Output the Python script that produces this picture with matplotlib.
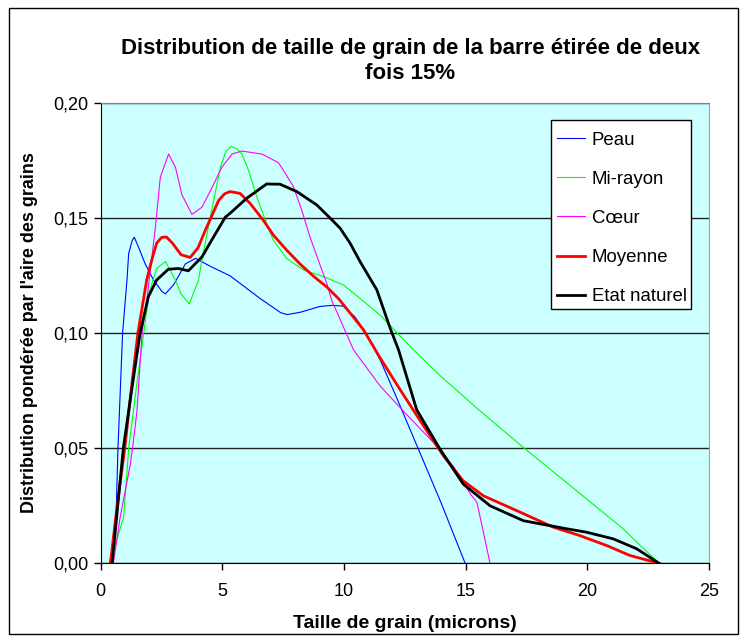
import numpy as np
import matplotlib
matplotlib.use('Agg')
import matplotlib.pyplot as plt
from matplotlib.patches import Rectangle
from matplotlib.ticker import FuncFormatter

plt.rcParams['font.family'] = ['Liberation Sans', 'DejaVu Sans']

# grain size distributions (microns vs area-weighted fraction)
peau_x = [0.45, 0.63, 0.71, 0.9, 1.08, 1.15, 1.29, 1.38, 1.55, 1.83, 2.17, 2.52, 2.66, 3.0, 3.48, 3.9,
          4.5, 5.32, 6.55, 7.4, 7.67, 8.2, 9.0, 9.5, 9.96, 10.45, 10.9, 11.5, 12.2, 13.0, 14.0, 14.98]
peau_y = [0.0, 0.02, 0.05, 0.10, 0.123, 0.1345, 0.140, 0.1416, 0.1374, 0.130, 0.123, 0.118, 0.117, 0.121,
          0.130, 0.1324, 0.129, 0.1248, 0.115, 0.1088, 0.108, 0.109, 0.1115, 0.112, 0.1117, 0.107, 0.100,
          0.088, 0.071, 0.051, 0.026, 0.0]

mirayon_x = [0.33, 0.6, 0.94, 1.02, 1.15, 1.45, 1.77, 2.0, 2.3, 2.66, 3.07, 3.3, 3.64, 4.02, 4.16, 4.5,
             4.92, 5.15, 5.37, 5.6, 5.8, 6.07, 6.41, 6.82, 7.09, 7.64, 8.33, 9.15, 9.97, 10.66, 11.48,
             12.85, 14.0, 15.5, 17.36, 19.5, 21.47, 22.2, 22.96]
mirayon_y = [0.0, 0.008, 0.02, 0.031, 0.05, 0.075, 0.10, 0.118, 0.128, 0.131, 0.123, 0.117, 0.1126,
             0.123, 0.1316, 0.150, 0.172, 0.179, 0.181, 0.180, 0.1777, 0.1708, 0.1592, 0.1476, 0.1404,
             0.1324, 0.1274, 0.1245, 0.1209, 0.115, 0.1078, 0.0927, 0.081, 0.067, 0.0504, 0.032, 0.015,
             0.0075, 0.0]

coeur_x = [0.52, 0.8, 1.0, 1.2, 1.31, 1.49, 1.7, 1.9, 2.25, 2.45, 2.79, 3.07, 3.34, 3.75, 4.16, 4.57,
           4.98, 5.4, 5.8, 6.63, 7.3, 7.5, 7.92, 8.26, 8.6, 8.94, 9.29, 9.49, 10.39, 11.49, 12.5, 13.68,
           14.5, 15.2, 15.46, 15.7, 16.0]
coeur_y = [0.0, 0.02, 0.031, 0.042, 0.05, 0.066, 0.10, 0.1147, 0.146, 0.1676, 0.1777, 0.172, 0.160,
           0.1515, 0.1546, 0.163, 0.172, 0.1777, 0.179, 0.1777, 0.174, 0.1708, 0.1636, 0.1534, 0.1418,
           0.1317, 0.1216, 0.1143, 0.0927, 0.0769, 0.0654, 0.0524, 0.042, 0.030, 0.0265, 0.015, 0.0]

moyenne_x = [0.4, 0.62, 0.8, 0.99, 1.25, 1.53, 1.89, 2.1, 2.3, 2.5, 2.7, 2.95, 3.3, 3.68, 4.0, 4.3, 4.85,
             5.1, 5.32, 5.73, 6.14, 6.68, 7.09, 7.64, 8.19, 8.74, 9.29, 9.77, 10.8, 11.49, 12.3, 13.2,
             14.09, 14.9, 15.73, 17.24, 18.6, 19.7, 20.8, 21.75, 22.95]
moyenne_y = [0.0, 0.02, 0.035, 0.05, 0.075, 0.10, 0.123, 0.1317, 0.139, 0.1415, 0.1417, 0.139, 0.134,
             0.1328, 0.137, 0.1446, 0.1576, 0.1605, 0.1614, 0.1606, 0.1563, 0.149, 0.1426, 0.136, 0.130,
             0.1247, 0.120, 0.115, 0.1014, 0.0891, 0.0755, 0.0608, 0.0466, 0.0358, 0.0293, 0.0222,
             0.0157, 0.012, 0.0077, 0.0034, 0.0]

naturel_x = [0.47, 0.7, 0.93, 1.27, 1.62, 1.96, 2.3, 2.78, 3.2, 3.6, 4.16, 4.6, 5.12, 5.32, 6.0, 6.82,
             7.37, 8.06, 8.88, 9.42, 9.84, 10.25, 10.66, 11.35, 11.9, 12.24, 12.99, 13.95, 14.9, 16.0,
             17.37, 19.15, 19.97, 21.07, 22.03, 22.95]
naturel_y = [0.0, 0.025, 0.05, 0.075, 0.10, 0.1158, 0.123, 0.1277, 0.128, 0.127, 0.133, 0.141, 0.1503,
             0.152, 0.1585, 0.1647, 0.1646, 0.1614, 0.1556, 0.150, 0.1455, 0.139, 0.131, 0.1187, 0.102,
             0.0927, 0.0666, 0.0495, 0.0344, 0.025, 0.0185, 0.015, 0.0135, 0.0106, 0.0063, 0.0]

labels = ['Peau', 'Mi-rayon', 'Cœur', 'Moyenne', 'Etat naturel']
colors = ['#0000FF', '#00FF00', '#FF00FF', '#FF0000', '#000000']
widths = [0.8, 0.8, 0.8, 2.0, 2.0]
series = [(peau_x, peau_y), (mirayon_x, mirayon_y), (coeur_x, coeur_y),
          (moyenne_x, moyenne_y), (naturel_x, naturel_y)]

fig = plt.figure(figsize=(7.47, 6.41), dpi=100)
ax = fig.add_axes([0.1348, 0.1212, 0.8143, 0.7186])
ax.set_facecolor('#CCFFFF')

for (xs, ys), lab, c, w in zip(series, labels, colors, widths):
    ax.plot(xs, ys, color=c, lw=w, label=lab, zorder=3)

ax.set_xlim(0, 25)
ax.set_ylim(0, 0.20)
ax.set_xticks(np.arange(0, 26, 5))
ax.set_yticks(np.arange(0, 0.201, 0.05))
ax.yaxis.set_major_formatter(FuncFormatter(lambda v, p: ('%.2f' % v).replace('.', ',')))
ax.tick_params(axis='both', direction='out', length=5, width=1, labelsize=13, color='black')
ax.tick_params(axis='y', pad=4)
ax.tick_params(axis='x', pad=9)
ax.grid(axis='y', color='#222222', lw=1, zorder=1)
ax.set_axisbelow(True)
ax.spines['left'].set_color('black')
ax.spines['bottom'].set_color('black')
ax.spines['top'].set_color('#808080')
ax.spines['right'].set_color('#a0a0a0')

ax.set_xlabel('Taille de grain (microns)', fontsize=14, fontweight='bold', labelpad=11)
ax.set_ylabel("Distribution pondérée par l'aire des grains", fontsize=12.9, fontweight='bold', labelpad=11)

fig.text(0.549, 0.9056, 'Distribution de taille de grain de la barre étirée de deux\nfois 15%',
         ha='center', va='center', fontsize=16, fontweight='bold', linespacing=1.25)

# legend box drawn as a patch, entries placed inside it
ax.add_patch(Rectangle((0.7403, 0.5521), 0.2301, 0.4103, transform=ax.transAxes,
                       facecolor='white', edgecolor='black', lw=1, zorder=4))
leg = ax.legend(loc='upper left', bbox_to_anchor=(0.7403, 0.9494), fontsize=13.4, frameon=False,
                labelspacing=1.19, handlelength=1.5, handletextpad=0.38, borderpad=0.3,
                borderaxespad=0)
leg.set_zorder(5)

# outer chart border
fig.patches.append(Rectangle((9 / 747, 1 - 634 / 641), 729 / 747, 626 / 641, transform=fig.transFigure,
                             fill=False, edgecolor='black', lw=1))

fig.savefig('out.png', dpi=100)
